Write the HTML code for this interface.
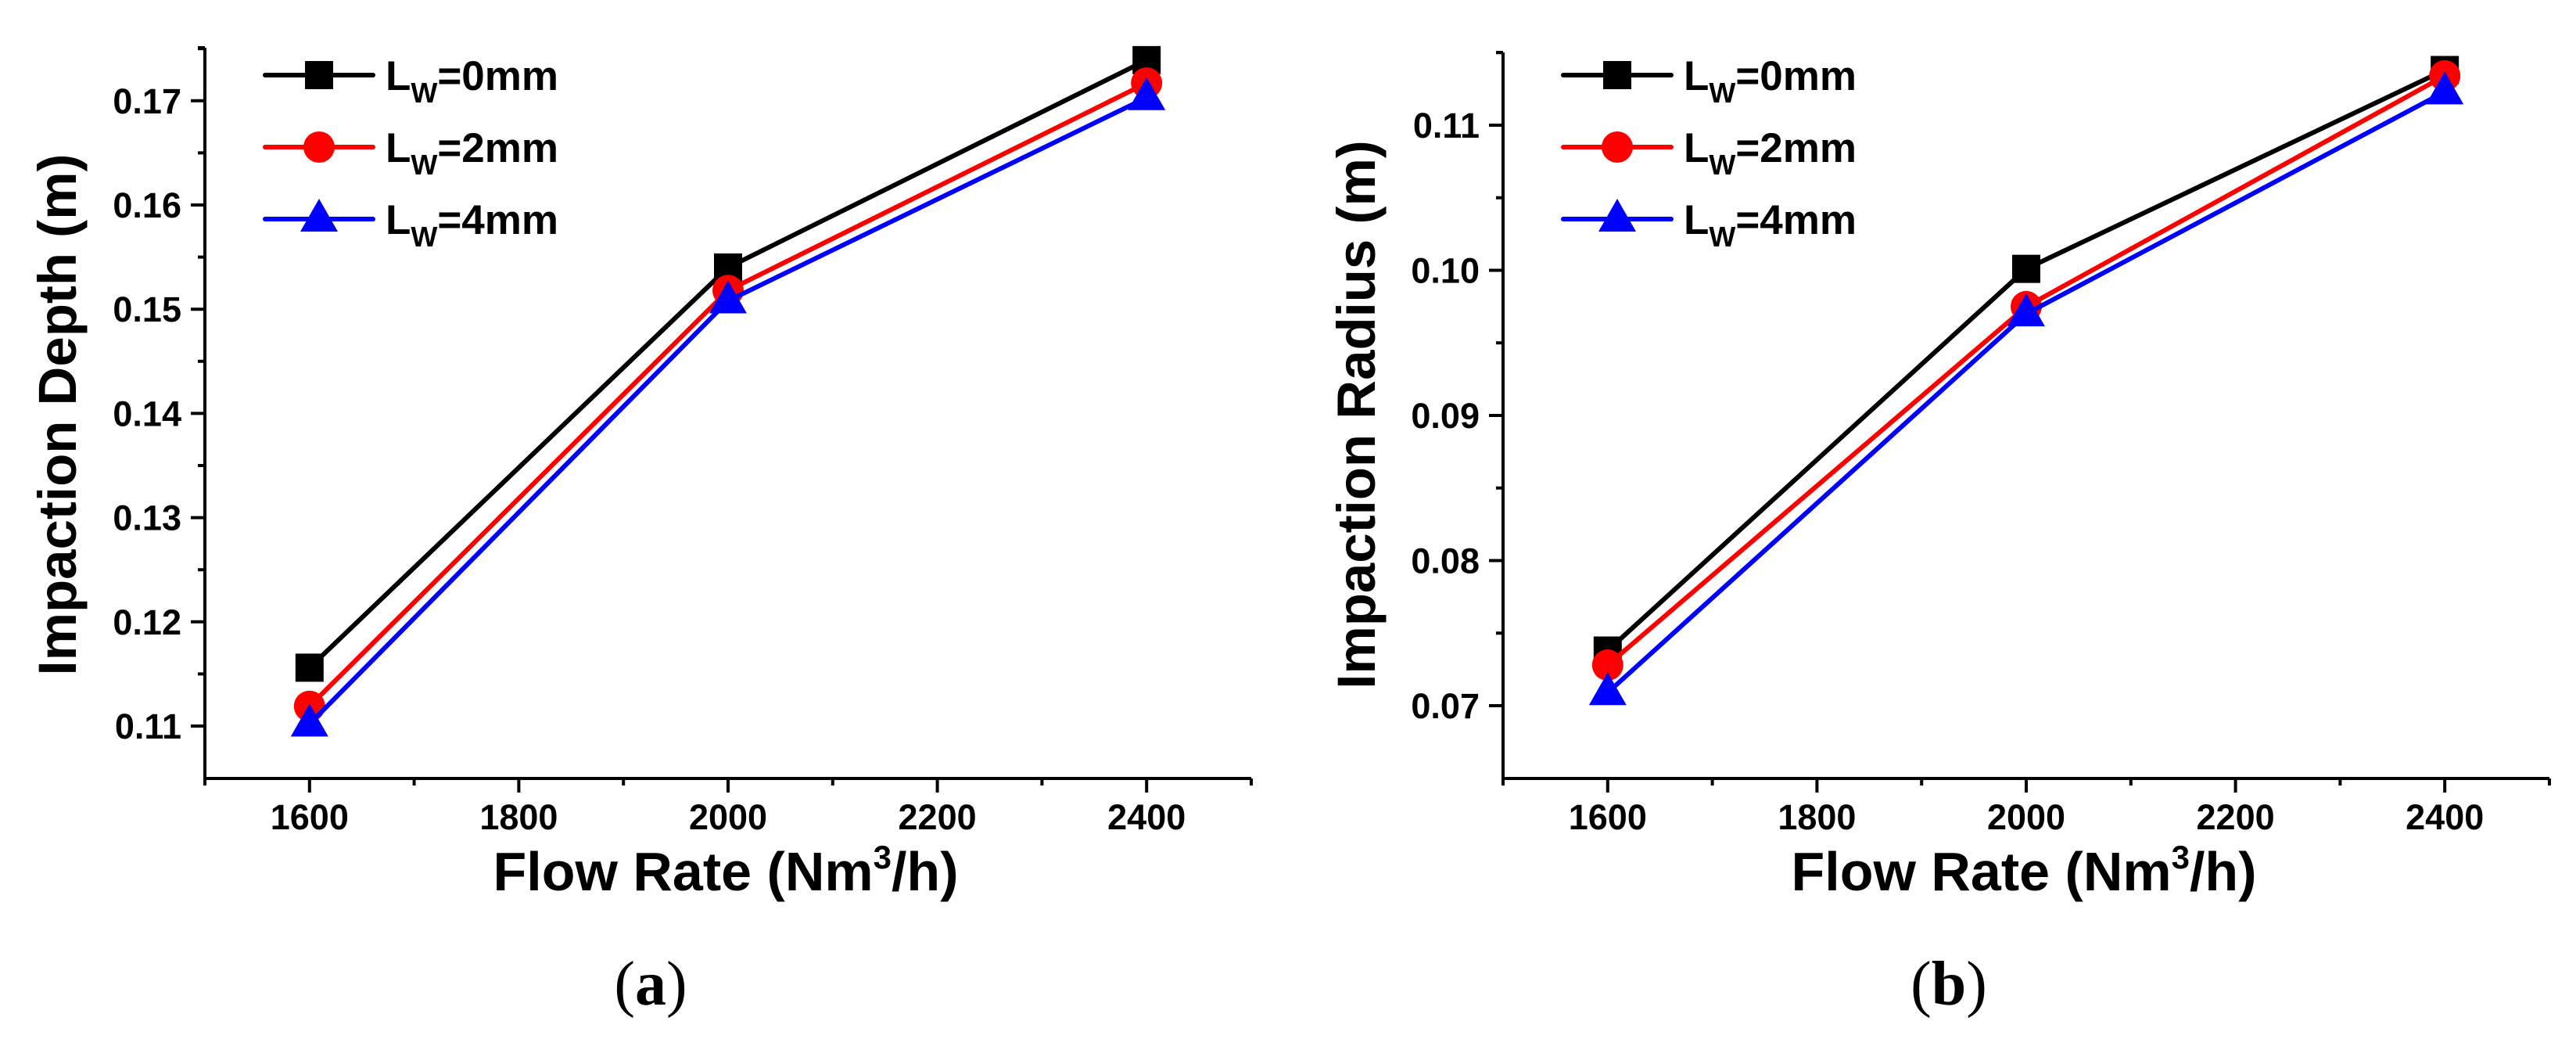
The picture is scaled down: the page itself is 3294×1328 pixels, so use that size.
<!DOCTYPE html>
<html><head><meta charset="utf-8">
<style>
html,body{margin:0;padding:0;background:#fff;}
svg{display:block;}
text{font-family:"Liberation Sans",Arial,sans-serif;font-weight:bold;fill:#000;}
.cap{font-family:"Liberation Serif",serif;font-weight:normal;}
</style></head>
<body>
<svg id="fig" width="3294" height="1328" viewBox="0 0 3294 1328" xmlns="http://www.w3.org/2000/svg"></svg>
<script>
const flowRates = [1600, 2000, 2400];
const seriesNames = ["0mm", "2mm", "4mm"];
const depthLw0 = [0.1156, 0.1540, 0.1739];
const depthLw2 = [0.1119, 0.1518, 0.1717];
const depthLw4 = [0.1102, 0.1508, 0.1703];
const radiusLw0 = [0.0738, 0.1001, 0.1138];
const radiusLw2 = [0.0728, 0.0975, 0.1134];
const radiusLw4 = [0.0709, 0.0970, 0.1123];
const xTicks = [1600, 1800, 2000, 2200, 2400];
const depthTicks = ["0.11", "0.12", "0.13", "0.14", "0.15", "0.16", "0.17"];
const radiusTicks = ["0.07", "0.08", "0.09", "0.10", "0.11"];

const NS = "http://www.w3.org/2000/svg";
const svg = document.getElementById("fig");
const colors = ["#000000", "#ff0000", "#0000ff"];

function mk(tag, attrs, parent) {
  const e = document.createElementNS(NS, tag);
  for (const k in attrs) e.setAttribute(k, attrs[k]);
  (parent || svg).appendChild(e);
  return e;
}

function drawChart(opt) {
  const g = mk("g", {});
  
  
  const x0 = opt.left, x1 = opt.left + 1338, yTop = opt.top, yBot = 995;
  const xs = v => x0 + (v - 1500) / 1000 * (x1 - x0);
  const ys = v => opt.y0px - (v - opt.y0) / opt.step * opt.stepPx;

  const axes = mk("path", {d: `M${x0} ${yTop} V${yBot} H${x1}`, fill: "none", stroke: "#000", "stroke-width": 4}, g);
  
  
  mk("line", {x1: x0 - 9, y1: yTop, x2: x0, y2: yTop, stroke: "#000", "stroke-width": 4}, g);
  mk("line", {x1: x1, y1: yBot, x2: x1, y2: yBot + 9, stroke: "#000", "stroke-width": 4}, g);

  for (let v = 1500; v <= 2500; v += 100) {
    const major = (v % 200 === 0);
    mk("line", {x1: xs(v), y1: yBot, x2: xs(v), y2: yBot + (major ? 18 : 9), stroke: "#000", "stroke-width": 4}, g);
  }
  xTicks.forEach(v => {
    const t = mk("text", {x: xs(v), y: 1060, "font-size": 45, "text-anchor": "middle"}, g);
    t.textContent = v;
    
    
  });
  const lo = parseFloat(opt.ticks[0]);
  for (let i = -1; i <= 2 * opt.ticks.length - 1; i++) {
    const v = lo + i * opt.step / 2;
    const y = ys(v);
    if (y < yTop - 1 || y > yBot - 2) continue;
    const major = (i % 2 === 0);
    mk("line", {x1: x0 - (major ? 18 : 9), y1: y, x2: x0, y2: y, stroke: "#000", "stroke-width": 4}, g);
  }
  opt.ticks.forEach(s => {
    const t = mk("text", {x: x0 - 30, y: ys(parseFloat(s)) + 16, "font-size": 45, "text-anchor": "end"}, g);
    t.textContent = s;
    
    
  });

  const xt = mk("text", {x: x0 + 666, y: 1138, "font-size": 70, "text-anchor": "middle"}, g);
  xt.innerHTML = 'Flow Rate (Nm<tspan dy="-28" font-size="42">3</tspan><tspan dy="28">/h)</tspan>';
  
  
  const yt = mk("text", {x: 0, y: 0, "font-size": 69, "text-anchor": "middle", transform: `translate(${opt.ytX},530) rotate(-90)`}, g);
  yt.textContent = opt.ytitle;
  
  
  const cap = mk("text", {x: x0 + 570, y: 1284, "font-size": 80, "text-anchor": "middle", class: "cap"}, g);
  cap.innerHTML = '(<tspan font-weight="bold">' + opt.cap + '</tspan>)';
  
  

  opt.series.forEach((vals, si) => {
    const sg = mk("g", {}, g);
    
    
    const pts = vals.map((v, i) => xs(flowRates[i]) + "," + ys(v)).join(" ");
    mk("polyline", {points: pts, fill: "none", stroke: colors[si], "stroke-width": 6, "stroke-linejoin": "round"}, sg);
    vals.forEach((v, i) => marker(sg, si, xs(flowRates[i]), ys(v), 'point'));
  });

  const lg = mk("g", {}, g);
  
  
  const lx = x0 + 77;
  [96, 188, 280].forEach((ly, si) => {
    const e = mk("g", {}, lg);
    
    
    mk("line", {x1: lx, y1: ly, x2: lx + 138, y2: ly, stroke: colors[si], "stroke-width": 6, "stroke-linecap": "round"}, e);
    marker(e, si, lx + 69, ly, 'legend-marker');
    const t = mk("text", {x: lx + 154, y: ly + 19, "font-size": 53}, e);
    t.innerHTML = 'L<tspan dy="16" font-size="36">W</tspan><tspan dy="-16">=' + seriesNames[si] + '</tspan>';
  });
}

function marker(parent, si, cx, cy, nm) {
  let m;
  if (si === 0) m = mk("rect", {x: cx - 18, y: cy - 18, width: 36, height: 36, fill: colors[0]}, parent);
  else if (si === 1) m = mk("circle", {cx: cx, cy: cy, r: 20, fill: colors[1]}, parent);
  else m = mk("polygon", {points: `${cx},${cy - 26} ${cx + 24},${cy + 16} ${cx - 24},${cy + 16}`, fill: colors[2]}, parent);
  
  
}

drawChart({name: "chart-impaction-depth", left: 262, top: 61, y0: 0.11, y0px: 928, step: 0.01, stepPx: 133.2,
  ticks: depthTicks, series: [depthLw0, depthLw2, depthLw4], ytitle: "Impaction Depth (m)", ytX: 97, cap: "a"});
drawChart({name: "chart-impaction-radius", left: 1922, top: 67, y0: 0.07, y0px: 902, step: 0.01, stepPx: 185.5,
  ticks: radiusTicks, series: [radiusLw0, radiusLw2, radiusLw4], ytitle: "Impaction Radius (m)", ytX: 1758, cap: "b"});
</script>
</body></html>
